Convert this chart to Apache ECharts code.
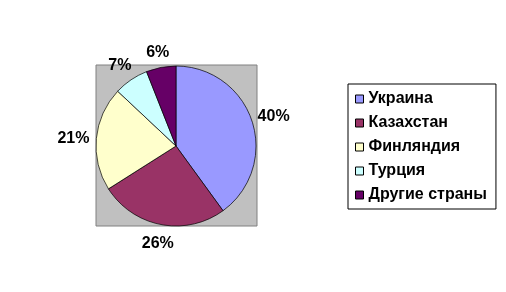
<!DOCTYPE html>
<html><head><meta charset="utf-8">
<script src="https://cdn.jsdelivr.net/npm/echarts@6/dist/echarts.min.js"></script>
<style>html,body{margin:0;padding:0;background:#fff}#c{width:506px;height:292px}</style>
</head><body><div id="c"></div>
<script>
const categories = ['Украина','Казахстан','Финляндия','Турция','Другие страны'];
const values = [40, 26, 21, 7, 6];
const colors = ['#9999FF','#993366','#FFFFCC','#CCFFFF','#660066'];

const CX = 176, CY = 146, R = 80;
const total = values.reduce((a,b)=>a+b,0);
function midAngle(i){
  let s = 0; for (let k=0;k<i;k++) s += values[k];
  return (s + values[i]/2) / total * 2 * Math.PI;
}

const chart = echarts.init(document.getElementById('c'), null, {renderer:'canvas'});
chart.setOption({
  animation:false,
  backgroundColor:'#fff',
  color: colors,
  graphic:[{type:'rect', shape:{x:96,y:65,width:161,height:161}, style:{fill:'#C0C0C0', stroke:'#808080', lineWidth:1}, z:-1}],
  legend:{
    orient:'vertical', left:348, top:84,
    data: categories,
    backgroundColor:'#fff', borderColor:'#000', borderWidth:1,
    padding:[7,9,6,7],
    itemWidth:8, itemHeight:8, itemGap:8,
    icon:'rect',
    itemStyle:{borderColor:'#000', borderWidth:1},
    textStyle:{fontFamily:'Liberation Sans, Arial', fontWeight:'bold', fontSize:16, lineHeight:16, color:'#000', padding:[0,0,0,0]}
  },
  series:[{
    type:'pie', center:[CX,CY], radius:R, startAngle:90, clockwise:true,
    data: categories.map((n,i)=>({name:n, value:values[i]})),
    itemStyle:{borderColor:'#000', borderWidth:0.7},
    label:{show:true, position:'outside', formatter:'{d}%', fontFamily:'Liberation Sans, Arial', fontWeight:'bold', fontSize:16, color:'#000'},
    labelLine:{show:false, length:8, length2:2},
    labelLayout:function(p){
      const a = midAngle(p.dataIndex);
      const d = R + 16 + 7*Math.abs(Math.sin(a));
      return {x: CX + d*Math.sin(a), y: CY + 2 - d*Math.cos(a), align:'center', verticalAlign:'middle'};
    },
    emphasis:{disabled:true}
  }]
});
</script></body></html>
